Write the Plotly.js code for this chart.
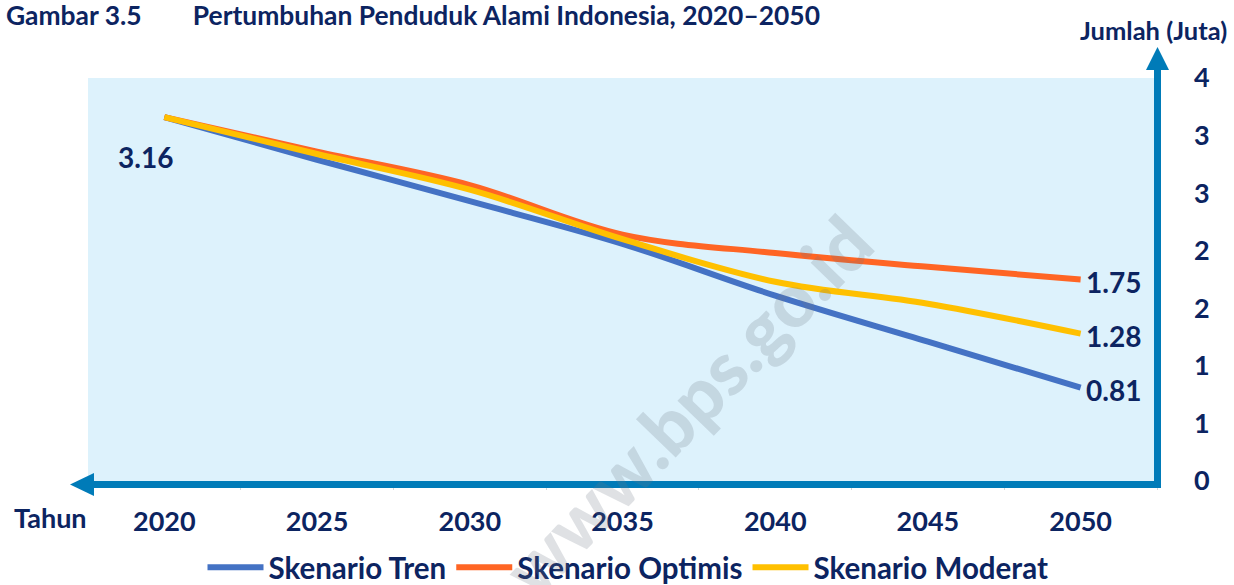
<!DOCTYPE html>
<html>
<head>
<meta charset="utf-8">
<script src="https://cdn.plot.ly/plotly-3.0.1.min.js"></script>
<style>html,body{margin:0;padding:0;background:#fff;}#chart{width:1234px;height:585px;}</style>
</head>
<body>
<div id="chart"></div>
<script>
// ---- data ----
const years = ['2020', '2025', '2030', '2035', '2040', '2045', '2050'];
const tren = [3.16, 2.79, 2.43, 2.06, 1.61, 1.21, 0.81];
const optimis = [3.16, 2.86, 2.57, 2.14, 1.98, 1.86, 1.75];
const moderat = [3.16, 2.84, 2.53, 2.10, 1.73, 1.54, 1.28];
const seriesNames = ['Skenario Tren', 'Skenario Optimis', 'Skenario Moderat'];
const yTickVals = [0, 0.5, 1, 1.5, 2, 2.5, 3, 3.5];
const yTickText = ['0', '1', '1', '2', '2', '3', '3', '4'];

// ---- style ----
const W = 1234, H = 585;
const M = {l: 88, r: 77, t: 78, b: 104};
const navy = '#0c2461';
const axisBlue = '#007bb8';
const FONT = 'Lato, "Open Sans", sans-serif';
const colors = ['#4472c4', '#ff6524', '#ffc000'];

const pw = W - M.l - M.r, ph = H - M.t - M.b;
const PX = px => (px - M.l) / pw;
const PY = py => (H - M.b - py) / ph;

const allSeries = [tren, optimis, moderat];
const traces = allSeries.map((vals, i) => ({
  type: 'scatter', mode: 'lines', x: years, y: vals, name: seriesNames[i],
  line: {color: colors[i], width: 6, shape: 'spline', smoothing: 1},
  hoverinfo: 'skip'
}));

const lastIdx = years.length - 1;
const annotations = [];
// first-point label
annotations.push({
  x: 0, y: tren[0], xref: 'x', yref: 'y', text: tren[0].toFixed(2),
  showarrow: false, xanchor: 'center', yanchor: 'middle', xshift: -19, yshift: -40,
  font: {family: FONT, size: 28, color: navy, weight: 700}
});
// last-point labels
allSeries.forEach(vals => {
  const last = vals[lastIdx];
  annotations.push({
    x: lastIdx, y: last, xref: 'x', yref: 'y', text: last.toFixed(2),
    showarrow: false, xanchor: 'left', yanchor: 'middle', xshift: 3, yshift: -2,
    font: {family: FONT, size: 28, color: navy, weight: 700}
  });
});
// axis titles
annotations.push({
  x: PX(1229), y: PY(30), xref: 'paper', yref: 'paper', text: 'Jumlah (Juta)',
  showarrow: false, xanchor: 'right', yanchor: 'middle',
  font: {family: FONT, size: 25.5, color: navy, weight: 700}
});
annotations.push({
  x: PX(12), y: PY(517), xref: 'paper', yref: 'paper', text: 'Tahun',
  showarrow: false, xanchor: 'left', yanchor: 'middle',
  font: {family: FONT, size: 27, color: navy, weight: 700}
});
// watermark
annotations.push({
  x: PX(686), y: PY(405), xref: 'paper', yref: 'paper', text: 'www.bps.go.id',
  showarrow: false, textangle: -46, xanchor: 'center', yanchor: 'middle',
  font: {family: FONT, size: 74, color: 'rgba(110,120,130,0.22)', weight: 900}
});

const shapes = [
  // bottom axis bar
  {type: 'line', xref: 'paper', yref: 'paper', x0: PX(1161), x1: PX(92), y0: PY(484.5), y1: PY(484.5),
   line: {color: axisBlue, width: 7}},
  // left arrowhead
  {type: 'path', xref: 'paper', yref: 'paper',
   path: `M ${PX(70)} ${PY(484.5)} L ${PX(94)} ${PY(473)} L ${PX(94)} ${PY(496)} Z`,
   fillcolor: axisBlue, line: {width: 0}},
  // right axis bar
  {type: 'line', xref: 'paper', yref: 'paper', x0: PX(1157.5), x1: PX(1157.5), y0: PY(488), y1: PY(66),
   line: {color: axisBlue, width: 7}},
  // up arrowhead
  {type: 'path', xref: 'paper', yref: 'paper',
   path: `M ${PX(1157.5)} ${PY(47)} L ${PX(1146)} ${PY(70)} L ${PX(1169)} ${PY(70)} Z`,
   fillcolor: axisBlue, line: {width: 0}}
];

const sp = '\u00a0'.repeat(8);
const layout = {
  width: W, height: H,
  margin: Object.assign({autoexpand: false}, M),
  paper_bgcolor: '#ffffff',
  plot_bgcolor: '#ddf2fc',
  font: {family: FONT, color: navy},
  title: {
    text: 'Gambar 3.5' + sp + 'Pertumbuhan Penduduk Alami Indonesia, 2020\u20132050',
    xref: 'container', yref: 'container', x: 6 / W, y: 1 - 16 / H,
    xanchor: 'left', yanchor: 'middle',
    font: {family: FONT, size: 26.4, color: navy, weight: 700}
  },
  xaxis: {
    type: 'category', range: [-0.5, 6.5], showgrid: false, zeroline: false, showline: false,
    ticks: 'outside', tickson: 'boundaries', ticklen: 8, tickcolor: '#d6d6d6', tickwidth: 1,
    ticklabelstandoff: 22,
    tickfont: {family: FONT, size: 27, color: navy, weight: 700}, fixedrange: true
  },
  yaxis: {
    range: [0, 3.5], side: 'right', showgrid: false, zeroline: false, showline: false,
    tickmode: 'array', tickvals: yTickVals, ticktext: yTickText,
    ticks: '', ticklabelstandoff: 36,
    tickfont: {family: FONT, size: 27, color: navy, weight: 700}, fixedrange: true
  },
  showlegend: true,
  legend: {
    orientation: 'h', xref: 'paper', x: PX(628), xanchor: 'center',
    yref: 'container', y: (H - 567.5) / H, yanchor: 'middle',
    font: {family: FONT, size: 29.5, color: navy, weight: 700},
    itemwidth: 56,
    bgcolor: 'rgba(0,0,0,0)', itemclick: false, itemdoubleclick: false,
    tracegroupgap: 0
  },
  annotations: annotations,
  shapes: shapes
};

Plotly.newPlot('chart', traces, layout, {displayModeBar: false, staticPlot: true});
</script>
</body>
</html>
